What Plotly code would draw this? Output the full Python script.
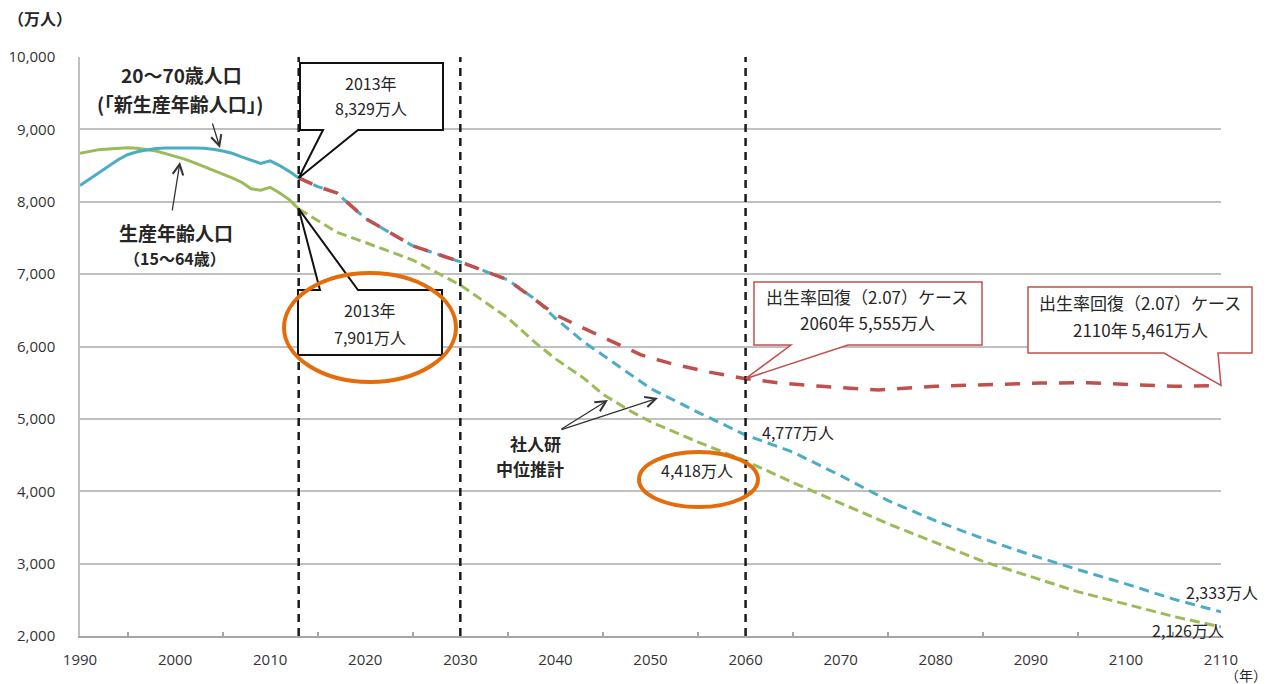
import plotly.graph_objects as go

# ---------------- data ----------------
hist_years = list(range(1990, 2014))
new_working_hist = [8223, 8310, 8400, 8490, 8580, 8650, 8690, 8715, 8735, 8742, 8745, 8745,
                    8742, 8738, 8725, 8700, 8670, 8620, 8570, 8530, 8565, 8500, 8420, 8329]
working_hist = [8670, 8700, 8720, 8730, 8740, 8747, 8740, 8725, 8700, 8665, 8630, 8590,
                8540, 8490, 8440, 8390, 8330, 8270, 8180, 8160, 8200, 8120, 8030, 7901]

proj_years = [2013, 2015, 2017, 2020, 2025, 2030, 2035, 2038, 2040, 2043, 2045, 2048, 2050,
              2055, 2060, 2065, 2070, 2075, 2080, 2085, 2090, 2095, 2100, 2105, 2110]
new_working_proj = [8329, 8210, 8122, 7770, 7390, 7170, 6920, 6640, 6390, 6060, 5880, 5600, 5420,
                    5090, 4777, 4540, 4215, 3870, 3590, 3345, 3120, 2915, 2720, 2510, 2333]
working_proj = [7901, 7740, 7580, 7437, 7195, 6850, 6395, 6040, 5830, 5560, 5340, 5100, 4960,
                4680, 4418, 4120, 3830, 3550, 3290, 3030, 2820, 2610, 2440, 2270, 2126]

recovery_years = [2013, 2015, 2017, 2020, 2025, 2030, 2035, 2038, 2040, 2043, 2045, 2049, 2052,
                  2056, 2060, 2064, 2068, 2074, 2080, 2086, 2091, 2096, 2100, 2105, 2110]
recovery_proj = [8329, 8210, 8122, 7770, 7390, 7170, 6920, 6640, 6440, 6250, 6125, 5884, 5770,
                 5650, 5555, 5490, 5450, 5400, 5450, 5480, 5495, 5500, 5480, 5450, 5461]

x_ticks = list(range(1990, 2111, 10))
y_ticks = list(range(2000, 10001, 1000))
marker_years = [2013, 2030, 2060]

# ---------------- layout geometry ----------------
W, H = 1271, 684
ML, MR, MT, MB = 80, 50, 57, 48
PW, PH = W - ML - MR, H - MT - MB
X0, X1, Y0, Y1 = 1990, 2110, 2000, 10000


def xp(year):
    return (year - X0) / (X1 - X0)


def yp(v):
    return (v - Y0) / (Y1 - Y0)


def px(p):
    return (p - ML) / PW


def py(p):
    return (H - MB - p) / PH


BLUE = "#4BACC6"
GREEN = "#9BBB59"
RED = "#C0504D"
ORANGE = "#E46C0A"
TXT = "#262626"

fig = go.Figure()
fig.add_trace(go.Scatter(x=proj_years, y=working_proj, mode="lines",
                         line=dict(color=GREEN, width=3, dash="10px,5px")))
fig.add_trace(go.Scatter(x=proj_years, y=new_working_proj, mode="lines",
                         line=dict(color=BLUE, width=3, dash="10px,6px")))
fig.add_trace(go.Scatter(x=recovery_years, y=recovery_proj, mode="lines",
                         line=dict(color=RED, width=3.5, dash="15px,12px")))
fig.add_trace(go.Scatter(x=hist_years, y=working_hist, mode="lines",
                         line=dict(color=GREEN, width=3)))
fig.add_trace(go.Scatter(x=hist_years, y=new_working_hist, mode="lines",
                         line=dict(color=BLUE, width=3)))

shapes = []
for yr in marker_years:
    shapes.append(dict(type="line", xref="x", yref="paper", x0=yr, x1=yr, y0=0, y1=1,
                       line=dict(color="#1a1a1a", width=2.5, dash="8px,6px"), layer="above"))


def callout_bottom(L, R, T, B, n1, n2, tip, color, width):
    tx, ty = tip
    path = (f"M {px(L)},{py(T)} L {px(R)},{py(T)} L {px(R)},{py(B)} L {px(n2)},{py(B)} "
            f"L {tx},{ty} L {px(n1)},{py(B)} L {px(L)},{py(B)} Z")
    return dict(type="path", xref="paper", yref="paper", path=path, fillcolor="white",
                line=dict(color=color, width=width), layer="above")


def callout_top(L, R, T, B, n1, n2, tip, color, width):
    tx, ty = tip
    path = (f"M {px(L)},{py(T)} L {px(n1)},{py(T)} L {tx},{ty} L {px(n2)},{py(T)} "
            f"L {px(R)},{py(T)} L {px(R)},{py(B)} L {px(L)},{py(B)} Z")
    return dict(type="path", xref="paper", yref="paper", path=path, fillcolor="white",
                line=dict(color=color, width=width), layer="above")


shapes.append(callout_bottom(300, 443, 63, 130, 323, 358,
                             (xp(2013), yp(new_working_hist[-1])), "#111111", 2))
shapes.append(callout_top(298, 442, 290, 355, 320, 358,
                          (xp(2013), yp(working_hist[-1])), "#111111", 2))
shapes.append(callout_bottom(754, 982, 282, 345, 791, 848,
                             (xp(2060), yp(5555)), RED, 1.5))
shapes.append(callout_bottom(1028, 1252, 287, 353, 1164, 1218,
                             (xp(2110), yp(recovery_proj[-1])), RED, 1.5))

shapes.append(dict(type="circle", xref="paper", yref="paper",
                   x0=px(284), x1=px(456), y0=py(382), y1=py(273),
                   line=dict(color=ORANGE, width=4), layer="above"))
shapes.append(dict(type="circle", xref="paper", yref="paper",
                   x0=px(639), x1=px(758), y0=py(507), y1=py(452),
                   line=dict(color=ORANGE, width=4), layer="above"))

FONT_CJK = "Noto Sans CJK JP"
ann = []


def text(t, x, y, size=14, xanchor="center", color=TXT, weight="normal"):
    ann.append(dict(text=t, xref="paper", yref="paper", x=px(x), y=py(y),
                    xanchor=xanchor, yanchor="middle", showarrow=False,
                    font=dict(family=FONT_CJK, size=size, color=color, weight=weight)))


def arrow(tail, tip):
    ann.append(dict(text="", xref="paper", yref="paper", x=px(tip[0]), y=py(tip[1]),
                    ax=tail[0] - tip[0], ay=tail[1] - tip[1], showarrow=True,
                    arrowhead=5, arrowsize=1.6, arrowwidth=1.3, arrowcolor="#333333",
                    standoff=0))


text("（万人）", 6, 18, size=16, xanchor="left", weight="bold")
text("（年）", 1269, 675, size=14, xanchor="right")
text("20〜70歳人口", 181, 74, size=19, weight="bold")
text("(「新生産年齢人口」)", 180, 103, size=19, weight="bold")
text("生産年齢人口", 176, 232, size=19, weight="bold")
text("（15〜64歳）", 175, 258, size=16, weight="bold")
text("2013年", 371, 83, size=16)
text("8,329万人", 371, 108, size=16)
text("2013年", 370, 310, size=16)
text("7,901万人", 370, 337, size=16)
text("出生率回復（2.07）ケース", 867, 296, size=17)
text("2060年 5,555万人", 867, 322, size=17)
text("出生率回復（2.07）ケース", 1140, 302, size=17)
text("2110年 5,461万人", 1140, 329, size=17)
text("社人研", 535, 443, size=17, weight="bold")
text("中位推計", 530, 469, size=17, weight="bold")
text("4,777万人", 760, 432, size=16, xanchor="left")
text("4,418万人", 659, 470, size=16, xanchor="left")
text("2,333万人", 1184, 592, size=16, xanchor="left")
text("2,126万人", 1150, 630, size=16, xanchor="left")

arrow((212, 122), (220, 148))
arrow((172, 212), (180, 162))
arrow((560, 430), (608, 400))
arrow((560, 430), (658, 398))

fig.update_layout(
    width=W, height=H,
    margin=dict(l=ML, r=MR, t=MT, b=MB, pad=0, autoexpand=False),
    paper_bgcolor="white", plot_bgcolor="white",
    showlegend=False,
    shapes=shapes, annotations=ann,
    hovermode=False,
    xaxis=dict(range=[X0, X1], tickvals=x_ticks, ticktext=[str(v) for v in x_ticks],
               showgrid=False, zeroline=False, showline=True, linecolor="#A6A6A6", linewidth=1.5,
               ticks="", ticklabelstandoff=9, automargin=False,
               tickfont=dict(family="Open Sans", size=15, color="#333333"),
               minor=dict(tickvals=list(range(1995, 2110, 10)), ticks="inside", ticklen=4,
                          tickcolor="#A6A6A6", tickwidth=1.5, showgrid=False)),
    yaxis=dict(range=[Y0, Y1], tickvals=y_ticks, tickformat=",", showgrid=True,
               gridcolor="#C0C0C0", gridwidth=1.5, zeroline=False, showline=True,
               linecolor="#C0C0C0", linewidth=1.5, ticks="", ticklabelstandoff=20,
               automargin=False,
               tickfont=dict(family="Open Sans", size=15, color="#333333")),
)

fig.write_html("out.html")
